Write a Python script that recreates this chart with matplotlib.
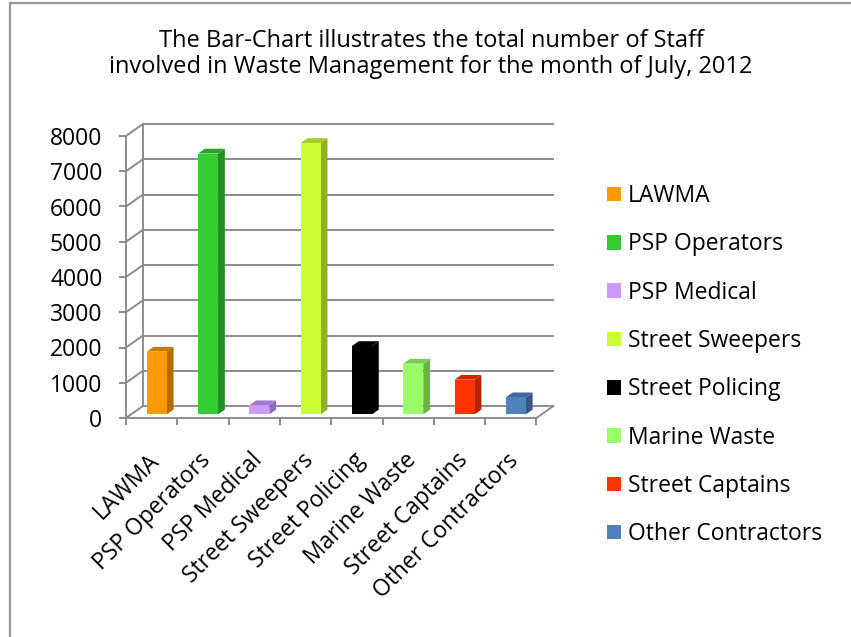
import matplotlib
matplotlib.use("Agg")
import matplotlib.pyplot as plt
from matplotlib.patches import Polygon, Patch
from matplotlib.lines import Line2D
import matplotlib.colors as mcolors
import matplotlib.transforms as mtrans

plt.rcParams['font.family'] = ['Open Sans', 'DejaVu Sans']

categories = ['LAWMA', 'PSP Operators', 'PSP Medical', 'Street Sweepers',
              'Street Policing', 'Marine Waste', 'Street Captains', 'Other Contractors']
staff = [1780, 7400, 260, 7700, 1940, 1440, 985, 485]
colors = ['#FF9900', '#33CC33', '#CC99FF', '#CCFF33',
          '#000000', '#99FF66', '#FF3300', '#4F81BD']
yticks = list(range(0, 8001, 1000))

title = ("The Bar-Chart illustrates the total number of Staff\n"
         "involved in Waste Management for the month of July, 2012")

W, H = 851, 637
fig = plt.figure(figsize=(W / 100, H / 100), dpi=100)

# pixel geometry of the pseudo-3D plot
px_cat = 51.3          # px per category
px_val = 0.03525       # px per staff unit
depth_px = (17, 12)    # back wall offset in px
ax_left, ax_base = 126, 418
n = len(categories)

ax = fig.add_axes([ax_left / W, (H - ax_base) / H,
                   (n * px_cat) / W, (8000 * px_val) / H])
ax.set_xlim(0, n)
ax.set_ylim(0, 8000)
DX = depth_px[0] / px_cat
DY = depth_px[1] / px_val

grid_c = '#8C8C8C'
lw = 1.4

# back wall grid + side wall diagonals
for v in yticks:
    ax.plot([DX, n + DX], [v + DY, v + DY], color=grid_c, lw=lw, clip_on=False, zorder=1)
    ax.plot([0, DX], [v, v + DY], color=grid_c, lw=lw, clip_on=False, zorder=1)
ax.plot([DX, DX], [DY, 8000 + DY], color=grid_c, lw=lw, clip_on=False, zorder=1)
ax.plot([n, n + DX], [0, DY], color=grid_c, lw=lw, clip_on=False, zorder=1)

# spines as the front axes
for s in ['top', 'right']:
    ax.spines[s].set_visible(False)
for s in ['left', 'bottom']:
    ax.spines[s].set_color(grid_c)
    ax.spines[s].set_linewidth(lw)
ax.patch.set_visible(False)

ax.set_yticks(yticks)
ax.set_yticklabels([str(v) for v in yticks], fontsize=16.5)
ax.set_xticks(range(n + 1))
ax.set_xticklabels([])
ax.set_xticks([i + 0.5 for i in range(n)], minor=True)
ax.set_xticklabels(categories, minor=True, rotation=45, ha='right', va='top',
                   rotation_mode='anchor', fontsize=16.5)
ax.tick_params(axis='both', which='major', length=5, width=lw, color=grid_c, direction='out')
ax.tick_params(axis='y', pad=12)
ax.tick_params(axis='x', which='minor', length=0, pad=22)
shift = mtrans.ScaledTranslation(-4 / 100, 0, fig.dpi_scale_trans)
for lab in ax.get_xticklabels(minor=True):
    lab.set_transform(lab.get_transform() + shift)

# bars: front faces via ax.bar, top and side as polygons
f0, f1 = 0.3, 0.7
bw = 20 / px_cat
xs = [i + 0.5 + DX * f0 for i in range(n)]
ax.bar(xs, staff, width=bw, bottom=DY * f0, color=colors, zorder=3, clip_on=False)
ddx = DX * (f1 - f0)
ddy = DY * (f1 - f0)
for x, v, c in zip(xs, staff, colors):
    rgb = mcolors.to_rgb(c)
    side = tuple(k * 0.7 for k in rgb)
    top = tuple(k * 0.8 for k in rgb)
    if c == '#000000':
        side = top = (0, 0, 0)
    x0, x1 = x - bw / 2, x + bw / 2
    y0, y1 = DY * f0, DY * f0 + v
    ax.add_patch(Polygon([(x1, y0), (x1 + ddx, y0 + ddy), (x1 + ddx, y1 + ddy), (x1, y1)],
                         closed=True, facecolor=side, edgecolor='none', zorder=2, clip_on=False))
    ax.add_patch(Polygon([(x0, y1), (x1, y1), (x1 + ddx, y1 + ddy), (x0 + ddx, y1 + ddy)],
                         closed=True, facecolor=top, edgecolor='none', zorder=2, clip_on=False))

# legend
handles = [Patch(facecolor=c, edgecolor='none') for c in colors]
fig.legend(handles, categories, loc='upper left', bbox_to_anchor=(598 / W, 1 - 175 / H),
           frameon=False, fontsize=16.5, handlelength=0.6, handleheight=0.6,
           handletextpad=0.3, labelspacing=1.06, borderaxespad=0)

fig.text(431 / W, 1 - 54 / H, title, ha='center', va='center', fontsize=17,
         linespacing=1.08)

# outer frame (top and left edges)
fig.add_artist(Line2D([10 / W, 10 / W], [0, 1 - 3 / H], color='#999999', lw=1.6))
fig.add_artist(Line2D([10 / W, 1], [1 - 3 / H, 1 - 3 / H], color='#999999', lw=1.6))

fig.savefig('out.png', dpi=100)
